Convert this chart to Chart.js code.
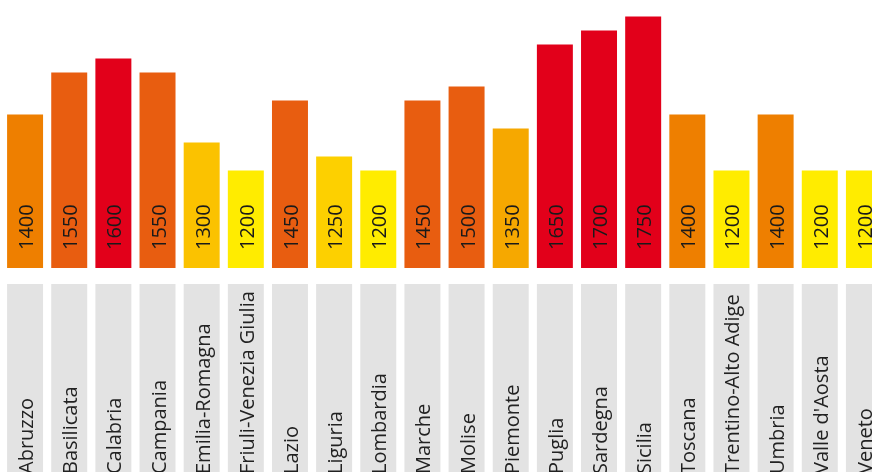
<!DOCTYPE html>
<html lang="it">
<head>
  <meta charset="UTF-8">
  <title>Regioni</title>
  <script src="https://cdn.jsdelivr.net/npm/chart.js"></script>
  <style>
    html, body { margin: 0; padding: 0; background: #fff; overflow: hidden; }
    canvas { display: block; }
  </style>
</head>
<body>
  <canvas id="regionChart" width="886" height="490"></canvas>
  <script>
    const regions = ['Abruzzo', 'Basilicata', 'Calabria', 'Campania', 'Emilia-Romagna',
      'Friuli-Venezia Giulia', 'Lazio', 'Liguria', 'Lombardia', 'Marche', 'Molise',
      'Piemonte', 'Puglia', 'Sardegna', 'Sicilia', 'Toscana', 'Trentino-Alto Adige',
      'Umbria', "Valle d'Aosta", 'Veneto'];
    const values = [1400, 1550, 1600, 1550, 1300, 1200, 1450, 1250, 1200, 1450, 1500,
      1350, 1650, 1700, 1750, 1400, 1200, 1400, 1200, 1200];
    const labelBoxes = regions.map(() => 1);

    // colour steps by value
    function colorFor(v) {
      if (v >= 1600) return '#e2001a';
      if (v >= 1450) return '#e85d10';
      if (v >= 1400) return '#ee7f00';
      if (v >= 1350) return '#f6a800';
      if (v >= 1300) return '#fbc200';
      if (v >= 1250) return '#fdd000';
      return '#ffec00';
    }

    const textPlugin = {
      id: 'barTexts',
      afterDatasetsDraw(chart) {
        const ctx = chart.ctx;
        const valueBase = chart.scales.y.bottom;
        const boxBase = chart.scales.y2.bottom;
        ctx.save();
        ctx.font = '20px "Open Sans"';
        ctx.textAlign = 'left';
        ctx.textBaseline = 'alphabetic';
        chart.getDatasetMeta(0).data.forEach((bar, i) => {
          ctx.save();
          ctx.fillStyle = '#1a1a1a';
          ctx.translate(bar.x + 8, valueBase - 18);
          ctx.rotate(-Math.PI / 2);
          ctx.fillText(String(values[i]), 0, 0);
          ctx.restore();
        });
        chart.getDatasetMeta(1).data.forEach((bar, i) => {
          ctx.save();
          ctx.fillStyle = '#222';
          ctx.translate(bar.x + 8, boxBase - 16);
          ctx.rotate(-Math.PI / 2);
          ctx.fillText(regions[i], 0, 0);
          ctx.restore();
        });
        ctx.restore();
      }
    };

    new Chart(document.getElementById('regionChart'), {
      type: 'bar',
      data: {
        labels: regions,
        datasets: [{
          data: values,
          backgroundColor: values.map(colorFor),
          yAxisID: 'y',
          grouped: false,
          barPercentage: 0.815,
          categoryPercentage: 1
        }, {
          data: labelBoxes,
          backgroundColor: '#e3e3e3',
          yAxisID: 'y2',
          grouped: false,
          barPercentage: 0.815,
          categoryPercentage: 1
        }]
      },
      options: {
        responsive: false,
        animation: false,
        layout: { padding: { left: 3, right: 0, top: 0, bottom: 0 } },
        plugins: { legend: { display: false }, tooltip: { enabled: false } },
        scales: {
          x: { display: false },
          y2: { display: false, min: 0, max: 1.078, stack: 'rows', stackWeight: 222 },
          y: { display: false, min: 852, max: 1809, stack: 'rows', stackWeight: 268 }
        }
      },
      plugins: [textPlugin]
    });
  </script>
</body>
</html>
